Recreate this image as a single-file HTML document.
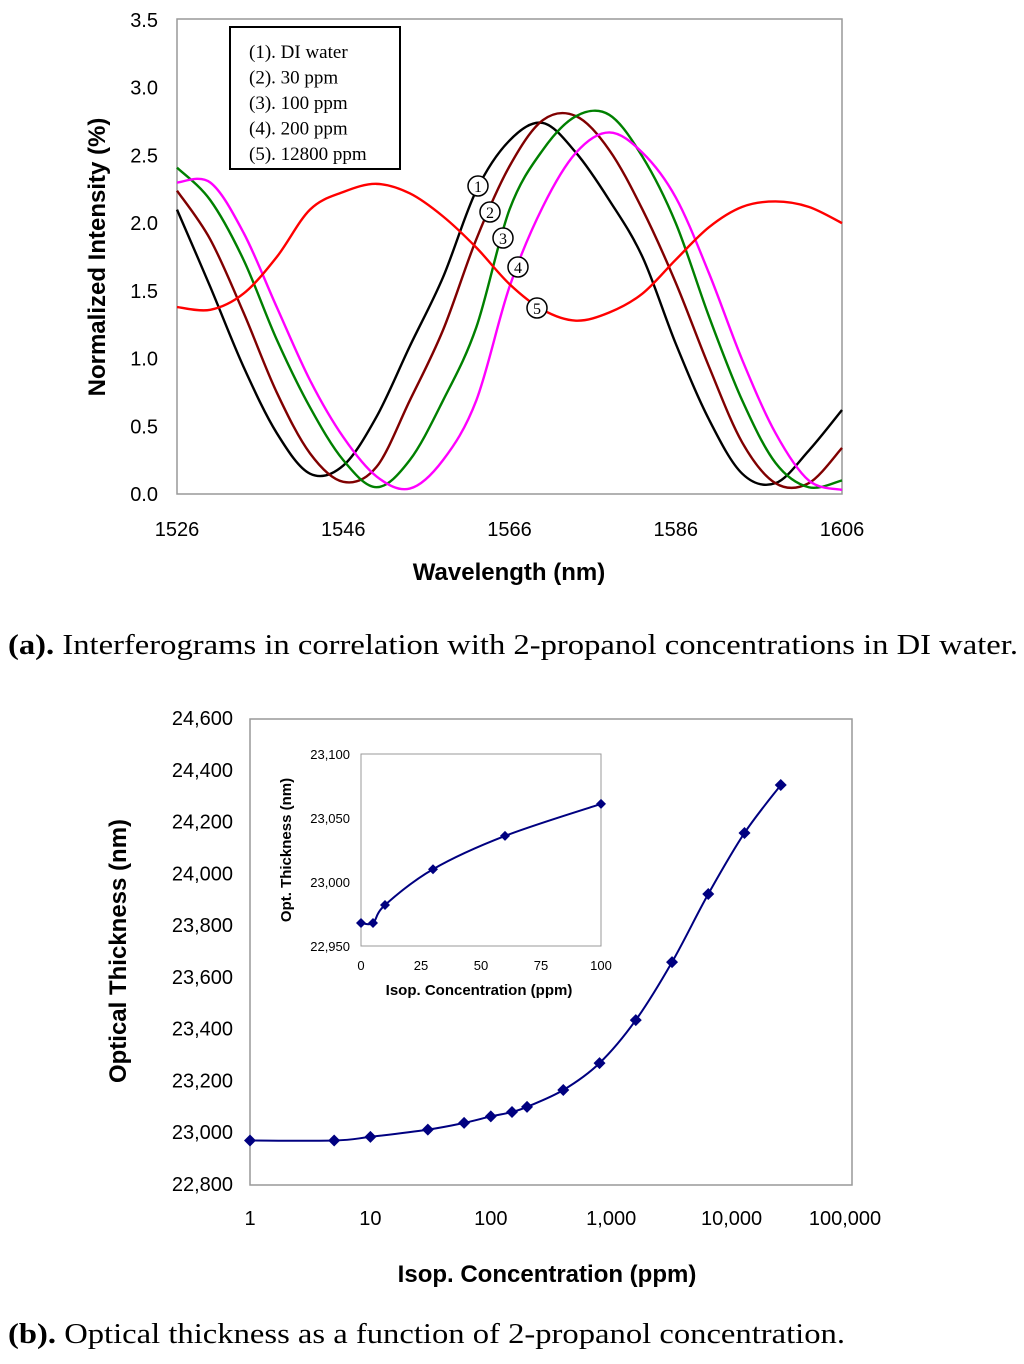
<!DOCTYPE html>
<html><head><meta charset="utf-8"><style>
body{margin:0;background:#fff;width:1024px;height:1364px;overflow:hidden}
svg text{font-family:"Liberation Sans",sans-serif}
.cap{position:absolute;left:8px;font-family:"Liberation Serif",serif;font-size:28px;color:#000;transform:scaleX(1.165);transform-origin:0 0;white-space:nowrap}
</style></head><body>
<svg id="chart" width="1024" height="1364" xmlns="http://www.w3.org/2000/svg" style="position:absolute;left:0;top:0"></svg>
<div class="cap" style="top:630px"><b>(a).</b> Interferograms in correlation with 2-propanol concentrations in DI water.</div>
<div class="cap" style="top:1319px"><b>(b).</b> Optical thickness as a function of 2-propanol concentration.</div>
<script>
// ---- chart (a) data ----
const wavelengths=[1526,1530,1534,1538,1542,1546,1550,1554,1558,1562,1566,1570,1574,1578,1582,1586,1590,1594,1598,1602,1606];
const seriesDI=[2.10,1.53,0.94,0.45,0.15,0.21,0.57,1.09,1.60,2.24,2.61,2.74,2.52,2.17,1.75,1.11,0.55,0.15,0.08,0.32,0.62];
const series30=[2.24,1.88,1.34,0.75,0.30,0.09,0.20,0.69,1.21,1.88,2.42,2.76,2.79,2.54,2.10,1.56,0.94,0.38,0.08,0.08,0.34];
const series100=[2.41,2.17,1.73,1.14,0.64,0.25,0.05,0.25,0.69,1.23,2.10,2.54,2.79,2.80,2.49,2.00,1.31,0.69,0.23,0.05,0.10];
const series200=[2.30,2.30,1.93,1.38,0.84,0.42,0.13,0.04,0.25,0.69,1.53,2.12,2.52,2.67,2.52,2.19,1.63,0.99,0.45,0.10,0.03];
const series12800=[1.38,1.36,1.48,1.75,2.10,2.23,2.29,2.22,2.05,1.82,1.55,1.36,1.28,1.34,1.48,1.73,1.97,2.12,2.16,2.12,2.00];
const aYTicks=["0.0","0.5","1.0","1.5","2.0","2.5","3.0","3.5"];
const aXTicks=[1526,1546,1566,1586,1606];
const legendLabels=["(1). DI water","(2). 30 ppm","(3). 100 ppm","(4). 200 ppm","(5). 12800 ppm"];
// ---- chart (b) data ----
const concentrations=[1,5,10,30,60,100,150,200,400,800,1600,3200,6400,12800,25600];
const thickness=[22968,22968,22982,23010,23036,23061,23078,23098,23163,23267,23433,23657,23920,24156,24341];
const bYTicks=[22800,23000,23200,23400,23600,23800,24000,24200,24400,24600];
const bXTicks=[1,10,100,1000,10000,100000];
const insetConc=[0,5,10,30,60,100];
const insetThick=[22968,22968,22982,23010,23036,23061];
const insetYTicks=[22950,23000,23050,23100];
const insetXTicks=[0,25,50,75,100];

const svg=document.getElementById('chart');
const NS='http://www.w3.org/2000/svg';
function mk(tag,attrs,parent){const e=document.createElementNS(NS,tag);for(const k in attrs)e.setAttribute(k,attrs[k]);(parent||svg).appendChild(e);return e;}
function txt(s,attrs){const e=mk('text',attrs);e.textContent=s;return e;}
const fmt=v=>v.toLocaleString('en-US');
function smooth(pts){let d='M'+pts[0][0]+','+pts[0][1];for(let i=0;i<pts.length-1;i++){const p0=pts[Math.max(0,i-1)],p1=pts[i],p2=pts[i+1],p3=pts[Math.min(pts.length-1,i+2)];const c1=[p1[0]+(p2[0]-p0[0])/6,p1[1]+(p2[1]-p0[1])/6],c2=[p2[0]-(p3[0]-p1[0])/6,p2[1]-(p3[1]-p1[1])/6];d+=` C${c1[0]},${c1[1]} ${c2[0]},${c2[1]} ${p2[0]},${p2[1]}`;}return d;}

// ---- chart (a) ----
const ax=v=>177+(v-1526)/80*665, ay=v=>494-v/3.5*474;
let el=mk('rect',{x:177,y:19,width:665,height:475,fill:'none',stroke:'#999','stroke-width':1.5});


aYTicks.forEach(t=>{const e=txt(t,{x:158,y:ay(+t)+7,'text-anchor':'end','font-size':20});

});
aXTicks.forEach(t=>{const e=txt(t,{x:ax(t),y:536,'text-anchor':'middle','font-size':20});

});
el=txt('Normalized Intensity (%)',{x:0,y:0,transform:'translate(105,257) rotate(-90)','text-anchor':'middle','font-size':24,'font-weight':'bold'});


el=txt('Wavelength (nm)',{x:509,y:580,'text-anchor':'middle','font-size':24,'font-weight':'bold'});


const aSeries=[[seriesDI,'#000','series-di-water'],[series30,'#800000','series-30ppm'],[series100,'#008000','series-100ppm'],[series200,'#ff00ff','series-200ppm'],[series12800,'#ff0000','series-12800ppm']];
aSeries.forEach(([s,c,n])=>{const p=mk('path',{d:smooth(wavelengths.map((w,i)=>[ax(w),ay(s[i])])),fill:'none',stroke:c,'stroke-width':2.4});

});
el=mk('rect',{x:230,y:27,width:170,height:142,fill:'#fff',stroke:'#000','stroke-width':2});


legendLabels.forEach((l,i)=>{const e=txt(l,{x:249,y:58+i*25.5,'font-size':19,style:'font-family:"Liberation Serif",serif'});

});
const markers=[[478,186],[490,212],[503,238],[518,267],[537,308]];
markers.forEach((m,i)=>{const c=mk('circle',{cx:m[0],cy:m[1],r:10,fill:'#fff',stroke:'#000','stroke-width':1.5});


const t=txt(String(i+1),{x:m[0],y:m[1]+6,'text-anchor':'middle','font-size':16,style:'font-family:"Liberation Serif",serif'});

});

// ---- chart (b) ----
const bx=v=>250+Math.log10(v)/5*602, by=v=>1184-(v-22800)/1800*466;
el=mk('rect',{x:250,y:719,width:602,height:466,fill:'none',stroke:'#999','stroke-width':1.5});


bYTicks.forEach(t=>{const e=txt(fmt(t),{x:233,y:by(t)+7,'text-anchor':'end','font-size':20});

});
bXTicks.forEach(t=>{const e=txt(fmt(t),{x:bx(t)-(t===100000?7:0),y:1225,'text-anchor':'middle','font-size':20});

});
el=txt('Optical Thickness (nm)',{x:0,y:0,transform:'translate(126,951) rotate(-90)','text-anchor':'middle','font-size':24,'font-weight':'bold'});


el=txt('Isop. Concentration (ppm)',{x:547,y:1282,'text-anchor':'middle','font-size':24,'font-weight':'bold'});


el=mk('path',{d:smooth(concentrations.map((c,i)=>[bx(c),by(thickness[i])])),fill:'none',stroke:'#000080','stroke-width':2});


concentrations.forEach((c,i)=>{const x=bx(c),y=by(thickness[i]);const d=mk('path',{d:`M${x},${y-6} L${x+6},${y} L${x},${y+6} L${x-6},${y} Z`,fill:'#000080'});

});

// ---- inset ----
const ix=v=>361+v/100*240, iy=v=>946-(v-22950)/150*192;
el=mk('rect',{x:361,y:754,width:240,height:192,fill:'#fff',stroke:'#999','stroke-width':1});


insetYTicks.forEach(t=>{const e=txt(fmt(t),{x:350,y:iy(t)+5,'text-anchor':'end','font-size':13});

});
insetXTicks.forEach(t=>{const e=txt(t,{x:ix(t),y:970,'text-anchor':'middle','font-size':13});

});
el=txt('Opt. Thickness (nm)',{x:0,y:0,transform:'translate(291,850) rotate(-90)','text-anchor':'middle','font-size':15,'font-weight':'bold'});


el=txt('Isop. Concentration (ppm)',{x:479,y:995,'text-anchor':'middle','font-size':15,'font-weight':'bold'});


el=mk('path',{d:smooth(insetConc.map((c,i)=>[ix(c),iy(insetThick[i])])),fill:'none',stroke:'#000080','stroke-width':2});


insetConc.forEach((c,i)=>{const x=ix(c),y=iy(insetThick[i]);const d=mk('path',{d:`M${x},${y-5} L${x+5},${y} L${x},${y+5} L${x-5},${y} Z`,fill:'#000080'});

});
</script>
</body></html>
